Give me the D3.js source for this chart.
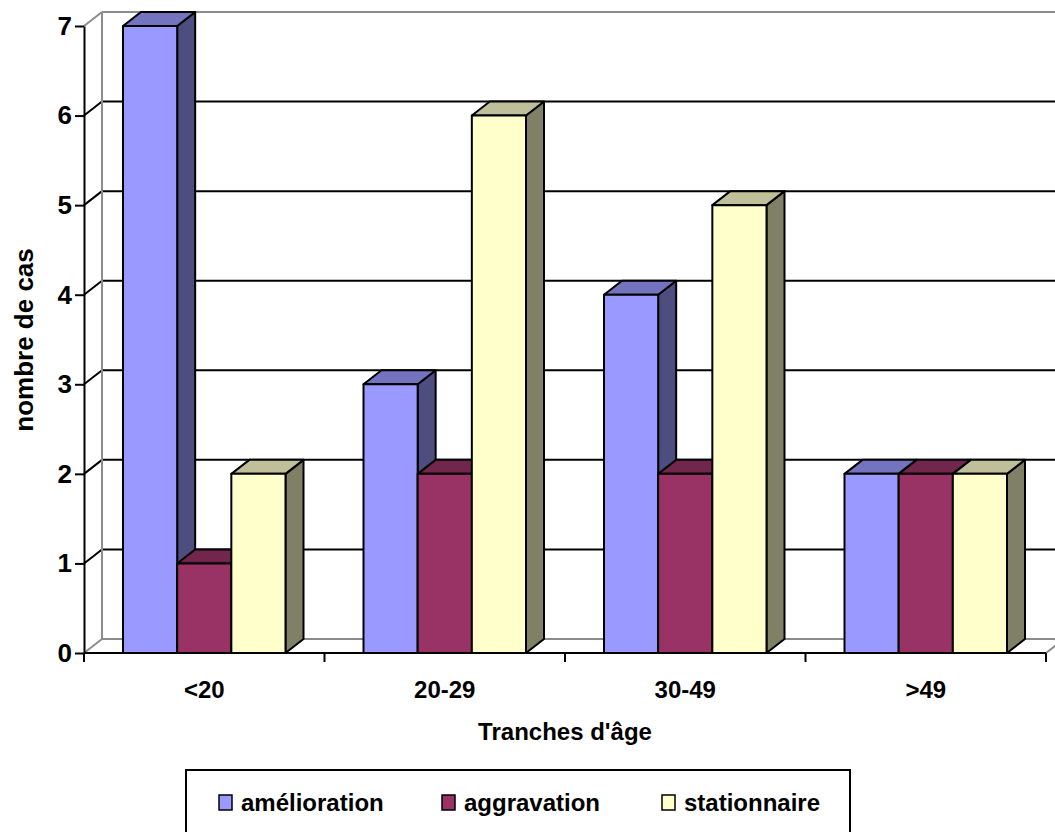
<!DOCTYPE html>
<html>
<head>
<meta charset="utf-8">
<script src="https://cdn.jsdelivr.net/npm/d3@7"></script>
<style>
  body { margin: 0; background: #fff; }
  text { font-family: "Liberation Sans", Arial, sans-serif; font-weight: bold; }
</style>
</head>
<body>
<div id="chart"></div>
<script>
// données
const categories = ['<20', '20-29', '30-49', '>49'];
const series = ['amélioration', 'aggravation', 'stationnaire'];
const amelioration = [7, 3, 4, 2];
const aggravation = [1, 2, 2, 2];
const stationnaire = [2, 6, 5, 2];
const yTicks = [0, 1, 2, 3, 4, 5, 6, 7];

const values = [amelioration, aggravation, stationnaire];
const colors = ['#9999ff', '#993366', '#ffffcc'];

const width = 1055, height = 832;
const dx = 18, dy = -14;   // profondeur 3D

const svg = d3.select('#chart').append('svg')
  .attr('width', width)
  .attr('height', height);

const y = d3.scaleLinear().domain([0, 7]).range([653, 26]);
const x0 = d3.scaleBand().domain(categories).range([84, 1046]);
const x1 = d3.scaleBand().domain(series).range([39, x0.bandwidth() - 39]);

const gray = '#8c8c8c';

// paroi du fond : lignes de grille
svg.append('g').selectAll('line')
  .data(yTicks)
  .enter().append('line')
  .attr('x1', 84 + dx).attr('x2', 1046 + dx + 20)
  .attr('y1', d => y(d) + dy).attr('y2', d => y(d) + dy)
  .attr('stroke', d => (d === 0 || d === 7) ? gray : '#000')
  .attr('stroke-width', 2);

// paroi de gauche : diagonales
svg.append('g').selectAll('line')
  .data(yTicks)
  .enter().append('line')
  .attr('x1', 84).attr('x2', 84 + dx)
  .attr('y1', d => y(d)).attr('y2', d => y(d) + dy)
  .attr('stroke', d => (d === 0 || d === 7) ? gray : '#000')
  .attr('stroke-width', 2);

svg.append('line')
  .attr('x1', 84 + dx).attr('x2', 84 + dx)
  .attr('y1', y(7) + dy).attr('y2', y(0) + dy)
  .attr('stroke', gray).attr('stroke-width', 2);

// sol : diagonale de droite
svg.append('line')
  .attr('x1', 1046).attr('x2', 1046 + dx)
  .attr('y1', y(0)).attr('y2', y(0) + dy)
  .attr('stroke', gray).attr('stroke-width', 2);

// barres 3D
const shade = (c, k) => { const r = d3.rgb(c); return d3.rgb(r.r * k, r.g * k, r.b * k).formatHex(); };

categories.forEach((cat, i) => {
  series.forEach((s, j) => {
    const v = values[j][i];
    const xl = x0(cat) + x1(s);
    const xr = xl + x1.bandwidth();
    const yt = y(v), yb = y(0);
    const g = svg.append('g')
      .attr('stroke', '#000').attr('stroke-width', 2).attr('stroke-linejoin', 'round');
    // côté
    g.append('path')
      .attr('d', `M${xr},${yt}L${xr + dx},${yt + dy}L${xr + dx},${yb + dy}L${xr},${yb}Z`)
      .attr('fill', shade(colors[j], 0.5));
    // dessus
    g.append('path')
      .attr('d', `M${xl},${yt}L${xl + dx},${yt + dy}L${xr + dx},${yt + dy}L${xr},${yt}Z`)
      .attr('fill', shade(colors[j], 0.75));
    // face
    g.append('rect')
      .attr('x', xl).attr('y', yt)
      .attr('width', x1.bandwidth()).attr('height', yb - yt)
      .attr('fill', colors[j]);
  });
});

// axe Y
const yAxis = svg.append('g')
  .attr('transform', 'translate(84,0)')
  .call(d3.axisLeft(y).tickValues(yTicks).tickFormat(d3.format('d')).tickSize(9).tickPadding(3).tickSizeOuter(0));
yAxis.select('.domain').attr('stroke', '#000').attr('stroke-width', 2);
yAxis.selectAll('.tick line').attr('stroke', '#000').attr('stroke-width', 2);
yAxis.selectAll('.tick text')
  .attr('font-size', 26).attr('fill', '#000')
  .style('font-family', '"Liberation Sans", Arial, sans-serif').style('font-weight', 'bold');

// axe X
svg.append('line')
  .attr('x1', 84).attr('x2', 1046)
  .attr('y1', y(0)).attr('y2', y(0))
  .attr('stroke', '#000').attr('stroke-width', 2);

const bounds = categories.map(c => x0(c)).concat([x0.range()[1]]);
svg.append('g').selectAll('line')
  .data(bounds)
  .enter().append('line')
  .attr('x1', d => d).attr('x2', d => d)
  .attr('y1', y(0)).attr('y2', y(0) + 9)
  .attr('stroke', '#000').attr('stroke-width', 2);

svg.append('g').selectAll('text')
  .data(categories)
  .enter().append('text')
  .attr('x', d => x0(d) + x0.bandwidth() / 2)
  .attr('y', 698)
  .attr('text-anchor', 'middle')
  .attr('font-size', 24)
  .text(d => d);

// titres des axes
svg.append('text')
  .attr('x', 565).attr('y', 740)
  .attr('text-anchor', 'middle')
  .attr('font-size', 24)
  .text("Tranches d'âge");

svg.append('text')
  .attr('transform', 'translate(33,340) rotate(-90)')
  .attr('text-anchor', 'middle')
  .attr('font-size', 26)
  .text('nombre de cas');

// légende
svg.append('rect')
  .attr('x', 186).attr('y', 770)
  .attr('width', 664).attr('height', 90)
  .attr('fill', '#fff').attr('stroke', '#000').attr('stroke-width', 2);

const legendX = [219, 442, 662];
const leg = svg.append('g').selectAll('g')
  .data(series)
  .enter().append('g')
  .attr('transform', (d, i) => `translate(${legendX[i]},795)`);
leg.append('rect')
  .attr('width', 13).attr('height', 15)
  .attr('fill', (d, i) => colors[i])
  .attr('stroke', '#000').attr('stroke-width', 1.5);
leg.append('text')
  .attr('x', 22).attr('y', 16)
  .attr('font-size', 24)
  .text(d => d);
</script>
</body>
</html>
